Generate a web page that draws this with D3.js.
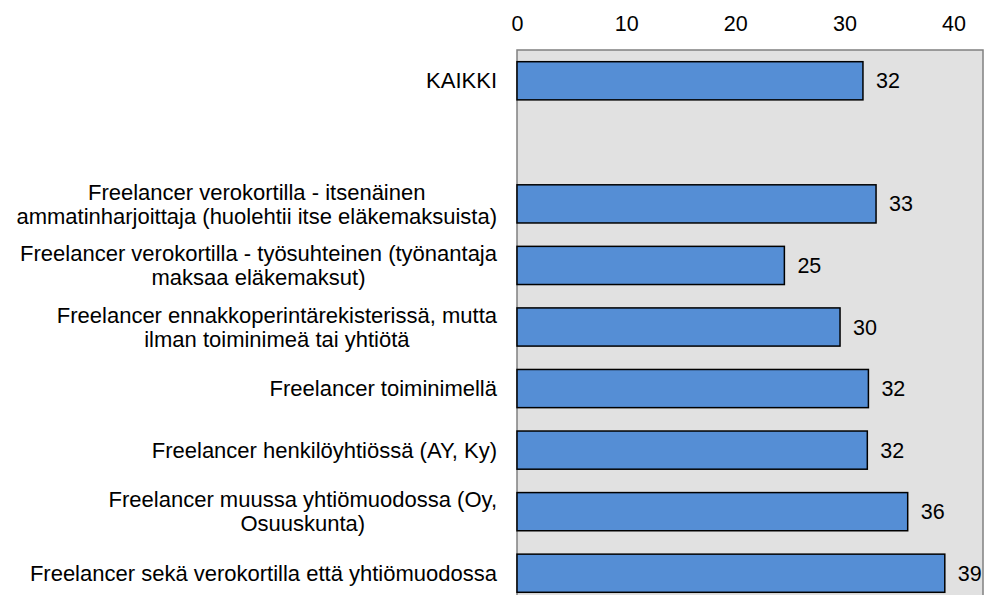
<!DOCTYPE html>
<html>
<head>
<meta charset="utf-8">
<script src="https://cdn.jsdelivr.net/npm/d3@7"></script>
<style>
  body { margin: 0; background: #fff; }
  text { font-family: "Liberation Sans", Arial, sans-serif; fill: #000; }
</style>
</head>
<body>
<svg id="chart" width="989" height="595"></svg>
<script>
// category labels (lines), blank slot after KAIKKI
const categories = [
  ["KAIKKI"],
  [""],
  ["Freelancer verokortilla - itsenäinen", "ammatinharjoittaja (huolehtii itse eläkemaksuista)"],
  ["Freelancer verokortilla - työsuhteinen (työnantaja", "maksaa eläkemaksut)"],
  ["Freelancer ennakkoperintärekisterissä, mutta", "ilman toiminimeä tai yhtiötä"],
  ["Freelancer toiminimellä"],
  ["Freelancer henkilöyhtiössä (AY, Ky)"],
  ["Freelancer muussa yhtiömuodossa (Oy,", "Osuuskunta)"],
  ["Freelancer sekä verokortilla että yhtiömuodossa"]
];
const values = [31.7, null, 32.9, 24.5, 29.6, 32.2, 32.1, 35.8, 39.2];
const valueLabels = ["32", "", "33", "25", "30", "32", "32", "36", "39"];
const tickValues = [0, 10, 20, 30, 40];

const svg = d3.select("#chart");
const catFont = 22;
const numFont = 21.5;

// plot area
const plotLeft = 517, plotRight = 983, plotTop = 50, plotBottom = 604;

const x = d3.scaleLinear().domain([0, 42.7]).range([plotLeft, plotRight]);
const y = d3.scaleBand()
  .domain(d3.range(categories.length))
  .range([plotTop, plotBottom])
  .paddingInner(0.38)
  .paddingOuter(0.19);

// background
svg.append("rect")
  .attr("x", plotLeft).attr("y", plotTop)
  .attr("width", plotRight - plotLeft).attr("height", plotBottom - plotTop)
  .attr("fill", "#e1e1e1")
  .attr("stroke", "#808080")
  .attr("stroke-width", 1.5);

// top axis labels
const xAxis = d3.axisTop(x).tickValues(tickValues).tickSize(0).tickPadding(19);
const ax = svg.append("g")
  .attr("transform", `translate(0,${plotTop})`)
  .call(xAxis);
ax.select(".domain").remove();
ax.selectAll("text")
  .style("font-size", numFont + "px")
  .style("font-family", '"Liberation Sans", Arial, sans-serif')
  .attr("fill", "#000");

// bars
const bars = categories.map((c, i) => ({ lines: c, v: values[i], label: valueLabels[i], i }))
  .filter(d => d.v != null);

svg.selectAll(".bar")
  .data(bars)
  .enter().append("rect")
  .attr("class", "bar")
  .attr("x", x(0))
  .attr("y", d => y(d.i))
  .attr("width", d => x(d.v) - x(0))
  .attr("height", y.bandwidth())
  .attr("fill", "#558ed5")
  .attr("stroke", "#000")
  .attr("stroke-width", 1.5);

// value labels
svg.selectAll(".val")
  .data(bars)
  .enter().append("text")
  .attr("class", "val")
  .attr("x", d => x(d.v) + 13)
  .attr("y", d => y(d.i) + y.bandwidth() / 2)
  .attr("dy", "0.35em")
  .style("font-size", numFont + "px")
  .text(d => d.label);

// category labels: block right-aligned, lines centred inside block
const labelRight = 497;
const lineH = 24;
categories.forEach((lines, i) => {
  if (!lines[0]) return;
  const cy = y(i) + y.bandwidth() / 2;
  const g = svg.append("g");
  const texts = lines.map((t, k) => g.append("text")
    .attr("y", cy + (k - (lines.length - 1) / 2) * lineH)
    .attr("dy", "0.35em")
    .style("font-size", catFont + "px")
    .text(t));
  const w = d3.max(texts, t => t.node().getComputedTextLength());
  texts.forEach(t => t.attr("x", labelRight - w / 2).attr("text-anchor", "middle"));
});
</script>
</body>
</html>
